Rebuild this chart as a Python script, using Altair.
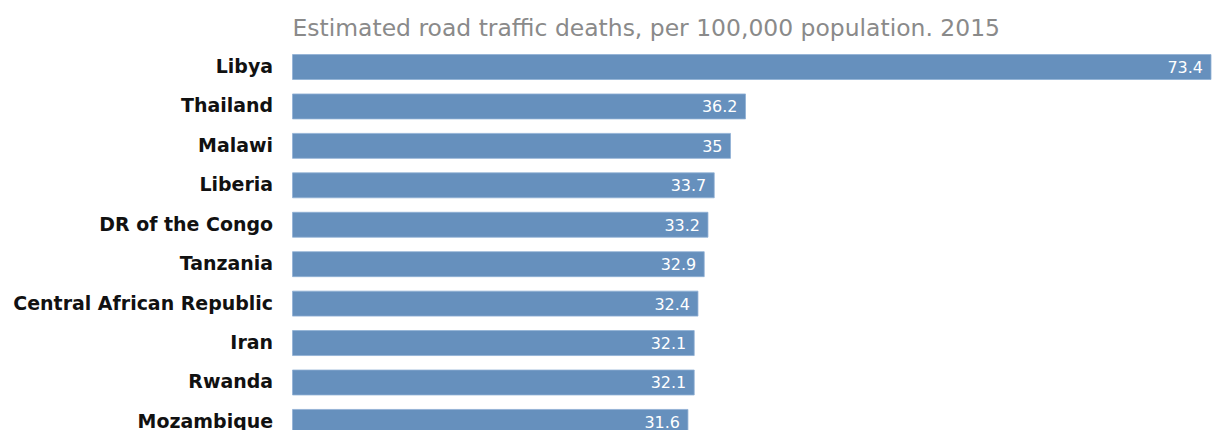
import altair as alt
import pandas as pd

countries = ["Libya", "Thailand", "Malawi", "Liberia", "DR of the Congo", "Tanzania",
             "Central African Republic", "Iran", "Rwanda", "Mozambique"]
deaths = [73.4, 36.2, 35.0, 33.7, 33.2, 32.9, 32.4, 32.1, 32.1, 31.6]
labels = ["73.4", "36.2", "35", "33.7", "33.2", "32.9", "32.4", "32.1", "32.1", "31.6"]

df = pd.DataFrame({"country": countries, "deaths": deaths, "label": labels})

FONT = "DejaVu Sans"

y = alt.Y("country:N", sort=countries,
          scale=alt.Scale(paddingInner=0.367, paddingOuter=0.1835),
          axis=alt.Axis(title=None, ticks=False, domain=False, labelPadding=20,
                        labelFont=FONT, labelFontSize=19, labelFontWeight="bold",
                        labelColor="#111111", labelLimit=400))
x = alt.X("deaths:Q", scale=alt.Scale(domain=[0, 73.4], nice=False), axis=None)

bars = alt.Chart(df).mark_bar(color="#6690bd", stroke="#8fb0d4", strokeWidth=0.8).encode(x=x, y=y)
text = alt.Chart(df).mark_text(align="right", baseline="middle", dx=-8, dy=1,
                               color="white", font=FONT, fontSize=16).encode(
    x=x, y=y, text="label:N")

chart = (bars + text).properties(
    width=920, height=395,
    padding={"left": 4, "top": 8, "right": 0, "bottom": 0},
    title=alt.TitleParams("Estimated road traffic deaths, per 100,000 population. 2015",
                          anchor="start", frame="group", font=FONT, fontSize=23.5,
                          fontWeight="normal", color="#8a8a8a", offset=7),
).configure_view(stroke=None)

chart.save("out.html", embed_options={"renderer": "svg", "actions": False})
